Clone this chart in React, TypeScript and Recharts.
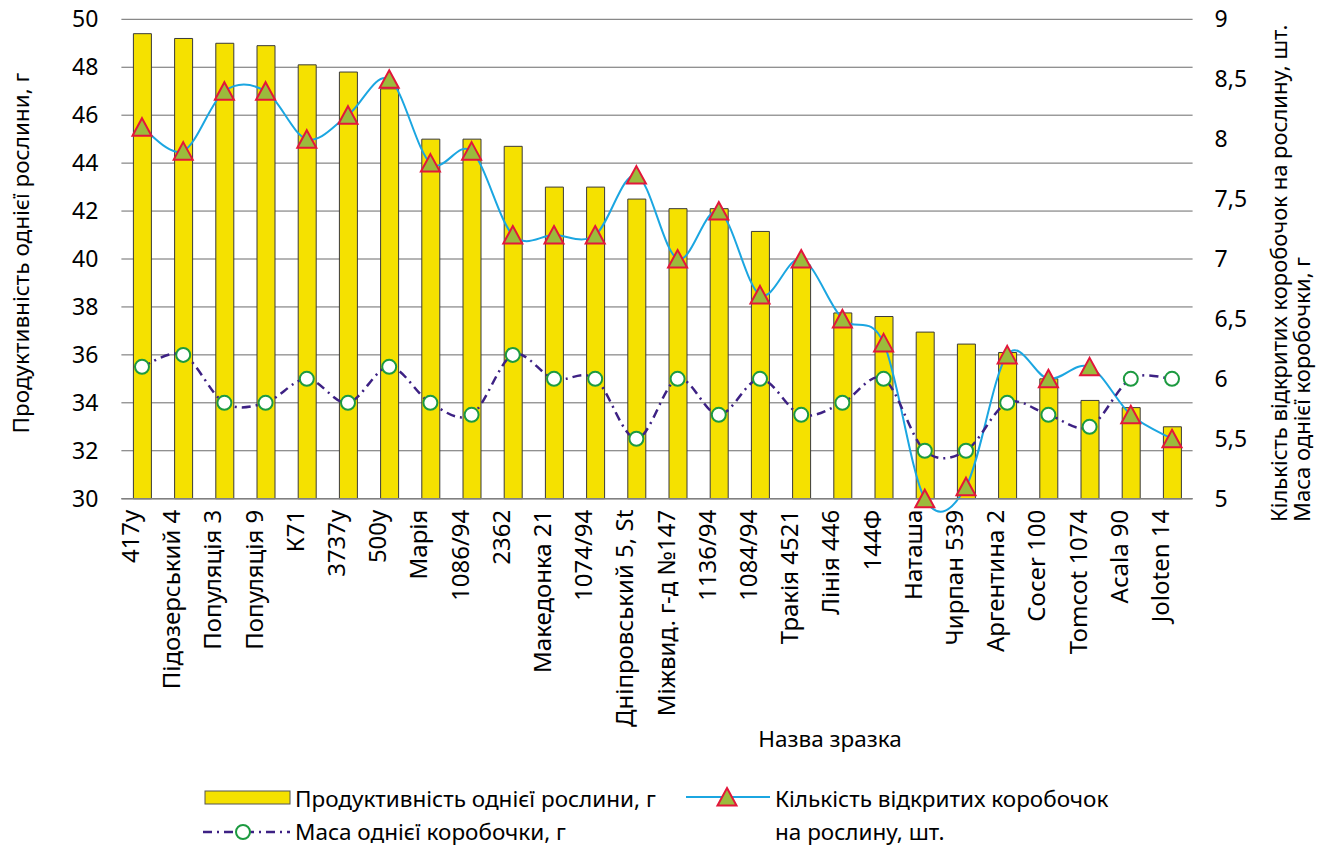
import { ComposedChart, Bar, Line, XAxis, YAxis, CartesianGrid, Label } from 'recharts';

const categories = [
  '417у', 'Підозерський 4', 'Популяція 3', 'Популяція 9', 'К71', '3737у', '500у', 'Марія',
  '1086/94', '2362', 'Македонка 21', '1074/94', 'Дніпровський 5, St', 'Міжвид. г-д №147',
  '1136/94', '1084/94', 'Тракія 4521', 'Лінія 446', '144Ф', 'Наташа', 'Чирпан 539',
  'Аргентина 2', 'Cocer 100', 'Tomcot 1074', 'Acala 90', 'Joloten 14',
];
const productivity = [
  49.4, 49.2, 49.0, 48.9, 48.1, 47.8, 47.1, 45.0, 45.0, 44.7, 43.0, 43.0, 42.5,
  42.1, 42.1, 41.15, 39.75, 37.75, 37.6, 36.95, 36.45, 36.1, 35.0, 34.1, 33.8, 33.0,
];
const openBolls = [
  8.1, 7.9, 8.4, 8.4, 8.0, 8.2, 8.5, 7.8, 7.9, 7.2, 7.2, 7.2, 7.7,
  7.0, 7.4, 6.7, 7.0, 6.5, 6.3, 5.0, 5.1, 6.2, 6.0, 6.1, 5.7, 5.5,
];
const bollMass = [
  6.1, 6.2, 5.8, 5.8, 6.0, 5.8, 6.1, 5.8, 5.7, 6.2, 6.0, 6.0, 5.5,
  6.0, 5.7, 6.0, 5.7, 5.8, 6.0, 5.4, 5.4, 5.8, 5.7, 5.6, 6.0, 6.0,
];
const leftTicks = [30, 32, 34, 36, 38, 40, 42, 44, 46, 48, 50];
const rightTicks = [5, 5.5, 6, 6.5, 7, 7.5, 8, 8.5, 9];

const data = categories.map((name, i) => ({
  name,
  productivity: productivity[i],
  openBolls: openBolls[i],
  bollMass: bollMass[i],
}));

const FONT = "'Noto Sans', 'DejaVu Sans', sans-serif";
const YELLOW = '#f5e100';
const BLUE = '#1ba6e1';
const PURPLE = '#3d2184';
const TRI_FILL = '#9bbb3c';
const TRI_STROKE = '#e2173a';
const CIRCLE_STROKE = '#1c9a40';

// excel-like smoothed line (catmull-rom through the points)
const smoothCurve = (context: any) => {
  let pts: [number, number][] = [];
  return {
    areaStart() {},
    areaEnd() {},
    lineStart() { pts = []; },
    point(x: number, y: number) { pts.push([+x, +y]); },
    lineEnd() {
      if (!pts.length) return;
      context.moveTo(pts[0][0], pts[0][1]);
      for (let i = 0; i < pts.length - 1; i++) {
        const p0 = pts[i - 1] || pts[i];
        const p1 = pts[i];
        const p2 = pts[i + 1];
        const p3 = pts[i + 2] || p2;
        context.bezierCurveTo(
          p1[0] + (p2[0] - p0[0]) / 6, p1[1] + (p2[1] - p0[1]) / 6,
          p2[0] - (p3[0] - p1[0]) / 6, p2[1] - (p3[1] - p1[1]) / 6,
          p2[0], p2[1],
        );
      }
    },
  };
};

const triangle = (cx: number, cy: number) =>
  `M${cx},${cy - 9} L${cx + 9.5},${cy + 8.5} L${cx - 9.5},${cy + 8.5} Z`;

const TriangleDot = (props: any) => {
  const { cx, cy, index } = props;
  return <path key={`tri-${index}`} d={triangle(cx, cy)} fill={TRI_FILL} stroke={TRI_STROKE} strokeWidth={2} />;
};

const CircleDot = (props: any) => {
  const { cx, cy, index } = props;
  return <circle key={`cir-${index}`} cx={cx} cy={cy} r={7} fill="#fff" stroke={CIRCLE_STROKE} strokeWidth={2} />;
};

const CategoryTick = (props: any) => {
  const { x, y, payload } = props;
  const bx = x - 3;
  return (
    <text x={bx} y={y} transform={`rotate(-90, ${bx}, ${y})`} textAnchor="end" fontSize={24} fill="#000" fontFamily={FONT}>
      {payload.value}
    </text>
  );
};

function ChartLegend() {
  return (
    <svg width={1330} height={88} style={{ position: 'absolute', left: 0, top: 757 }} fontFamily={FONT} fontSize={22.5}>
      <rect x={205} y={34} width={85} height={13} fill={YELLOW} stroke="#555" strokeWidth={1} />
      <text x={295} y={41} dominantBaseline="central">Продуктивність однієї рослини, г</text>
      <line x1={686} x2={770} y1={40} y2={40} stroke={BLUE} strokeWidth={2} />
      <path d={triangle(727, 40)} fill={TRI_FILL} stroke={TRI_STROKE} strokeWidth={2} />
      <text x={775} y={41} dominantBaseline="central">Кількість відкритих коробочок</text>
      <line x1={203} x2={290} y1={75} y2={75} stroke={PURPLE} strokeWidth={2.5} strokeDasharray="9 5 2 5" />
      <circle cx={243} cy={75} r={7} fill="#fff" stroke={CIRCLE_STROKE} strokeWidth={2} />
      <text x={295} y={74} dominantBaseline="central">Маса однієї коробочки, г</text>
      <text x={775} y={74} dominantBaseline="central">на рослину, шт.</text>
    </svg>
  );
}

export default function App() {
  return (
    <div style={{ position: 'relative', width: 1330, height: 845, margin: '-8px 0 0 -8px', fontFamily: FONT }}>
      <ComposedChart
        width={1330}
        height={845}
        data={data}
        margin={{ top: 19.3, right: 0, bottom: 0, left: 0 }}
        barSize={18}
      >
        <CartesianGrid yAxisId="left" vertical={false} stroke="#6b6b6b" strokeWidth={1} />
        <XAxis
          dataKey="name"
          interval={0}
          height={346.3}
          tickSize={0}
          tickMargin={11}
          tick={<CategoryTick />}
          axisLine={{ stroke: '#808080', strokeWidth: 1.5 }}
          tickLine={false}
        >
          <Label
            content={() => (
              <text x={830} y={738} textAnchor="middle" dominantBaseline="central" fontSize={22.5} fontFamily={FONT} fill="#000">
                Назва зразка
              </text>
            )}
          />
        </XAxis>
        <YAxis
          yAxisId="left"
          width={121.4}
          domain={[30, 50]}
          ticks={leftTicks}
          interval={0}
          tickSize={0}
          tickMargin={23}
          axisLine={false}
          tickLine={false}
          tick={{ fontSize: 23, fill: '#000', fontFamily: FONT }}
        >
          <Label
            content={() => (
              <text x={29} y={253} transform="rotate(-90, 29, 253)" textAnchor="middle" fontSize={22.5} fontFamily={FONT} fill="#000">
                Продуктивність однієї рослини, г
              </text>
            )}
          />
        </YAxis>
        <YAxis
          yAxisId="right"
          orientation="right"
          width={137.4}
          domain={[5, 9]}
          ticks={rightTicks}
          interval={0}
          tickSize={0}
          tickMargin={22}
          axisLine={false}
          tickLine={false}
          tickFormatter={(v: number) => String(v).replace('.', ',')}
          tick={{ fontSize: 23, fill: '#000', fontFamily: FONT }}
        >
          <Label
            content={() => (
              <g fontSize={22} fontFamily={FONT} fill="#000">
                <text x={1287} y={522} transform="rotate(-90, 1287, 522)" textAnchor="start">
                  Кількість відкритих коробочок на рослину, шт.
                </text>
                <text x={1310} y={522} transform="rotate(-90, 1310, 522)" textAnchor="start">
                  Маса однієї коробочки, г
                </text>
              </g>
            )}
          />
        </YAxis>
        <Bar
          yAxisId="left"
          dataKey="productivity"
          fill={YELLOW}
          stroke="#3a3a3a"
          strokeWidth={1}
          isAnimationActive={false}
        />
        <Line
          yAxisId="right"
          dataKey="openBolls"
          type={smoothCurve as any}
          stroke={BLUE}
          strokeWidth={2}
          dot={TriangleDot}
          activeDot={false}
          isAnimationActive={false}
        />
        <Line
          yAxisId="right"
          dataKey="bollMass"
          type={smoothCurve as any}
          stroke={PURPLE}
          strokeWidth={2.5}
          strokeDasharray="9 5 2 5"
          dot={CircleDot}
          activeDot={false}
          isAnimationActive={false}
        />
      </ComposedChart>
      <ChartLegend />
    </div>
  );
}
